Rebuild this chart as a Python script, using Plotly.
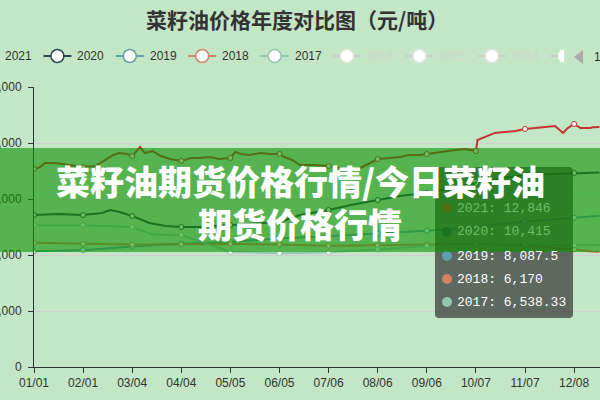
import plotly.graph_objects as go
import pandas as pd

# ---------------- data ----------------
dates = list(pd.date_range("2021-01-01", "2021-12-31").strftime("%m/%d"))
tick_labels = dates[::31]

years = ["2021", "2020", "2019", "2018", "2017"]
colors = ["#c23531", "#2f4554", "#61a0a8", "#d48265", "#91c7ae"]

legend_years = ["2021", "2020", "2019", "2018", "2017", "2016", "2015", "2014", "2013"]
legend_active = [True, True, True, True, True, False, False, False, False]

days_2021 = [0, 4, 7, 13, 18, 23, 31, 39, 45, 50, 54, 59, 62, 67, 70, 75, 80, 86, 93, 99, 105, 111, 117,
             124, 127, 131, 136, 143, 149, 155, 158, 163, 168, 177, 186, 193, 200, 206, 212, 217, 225, 231,
             237, 244, 248, 256, 266, 272, 279, 280, 285, 291, 297, 304, 310, 316, 323, 329, 334, 337, 341,
             345, 351, 353, 357]
vals_2021 = [10610, 10710, 10930, 10930, 10870, 10820, 10710, 10770, 11090, 11360, 11460, 11410, 11300,
             11790, 11460, 11570, 11300, 11140, 11040, 11200, 11200, 11250, 11140, 11200, 11520, 11410,
             11360, 11460, 11410, 11410, 11250, 11090, 10820, 10820, 10770, 10660, 10550, 10660, 10930,
             11140, 11200, 11250, 11360, 11360, 11410, 11520, 11620, 11680, 11570, 12160, 12320, 12540,
             12590, 12640, 12750, 12800, 12860, 12910, 12540, 12800, 13020, 12800, 12800, 12846, 12860]

days_2020 = [0, 15, 31, 43, 48, 54, 62, 73, 83, 93, 105, 124, 155, 168, 186, 200, 217, 231, 248, 263,
             279, 295, 310, 325, 341, 353, 357]
vals_2020 = [8143, 8196, 8143, 8250, 8411, 8304, 8089, 7714, 7554, 7500, 7500, 7607, 7770, 8143, 8410,
             8680, 8946, 9160, 9320, 9590, 9857, 10125, 10286, 10340, 10393, 10415, 10420]

days_2019 = [0, 31, 62, 93, 124, 155, 186, 217, 248, 279, 310, 341, 353, 357]
vals_2019 = [6200, 6260, 6450, 6600, 6700, 6900, 7000, 7150, 7300, 7500, 7800, 8000, 8087.5, 8100]

days_2018 = [0, 31, 62, 93, 124, 155, 186, 217, 248, 279, 310, 341, 353, 357]
vals_2018 = [6650, 6600, 6560, 6580, 6600, 6560, 6500, 6520, 6560, 6600, 6500, 6300, 6170, 6160]

days_2017 = [0, 31, 62, 75, 93, 124, 155, 186, 217, 248, 279, 310, 341, 353, 357]
vals_2017 = [7600, 7600, 7500, 7100, 7070, 6160, 6100, 6150, 6300, 6500, 6600, 6550, 6520, 6538.33, 6540]

series_days = [days_2021, days_2020, days_2019, days_2018, days_2017]
series_vals = [vals_2021, vals_2020, vals_2019, vals_2018, vals_2017]

y_ticks = [0, 3000, 6000, 9000, 12000, 15000]
hover_day = 353

title_text = "菜籽油价格年度对比图（元/吨）"
banner_line1 = "菜籽油期货价格行情/今日菜籽油"
banner_line2 = "期货价格行情"

# ---------------- geometry helpers (600x400 page) ----------------
W, H = 600, 400
L, R, T, B = 34, 0, 87, 33
PW, PH = W - L - R, H - T - B


def px(x):
    return (x - L) / PW


def py(y):
    return (H - B - y) / PH


def fmt(v):
    if float(v) == int(v):
        return f"{int(v):,}"
    return f"{v:,}"


def blend(rgb, over, a):
    return "rgb(%d,%d,%d)" % tuple(round(a * o + (1 - a) * c) for c, o in zip(rgb, over))


BG = "#c3e6c6"
BANNER_RGB = (12, 147, 0)
BANNER_A = 0.6

fig = go.Figure()

tick_set = set(range(0, 365, 31))
for yr, col, d, v in zip(years, colors, series_days, series_vals):
    fig.add_trace(go.Scatter(
        x=[dates[i] for i in d], y=v, mode="lines", name=yr,
        line=dict(color=col, width=2), hoverinfo="skip", showlegend=False))
    md = [i for i in d if i in tick_set]
    mv = [val for i, val in zip(d, v) if i in tick_set]
    fig.add_trace(go.Scatter(
        x=[dates[i] for i in md], y=mv, mode="markers",
        marker=dict(size=5, color="white", line=dict(color=col, width=1)),
        hoverinfo="skip", showlegend=False))

shapes = []
annotations = []

# ---------------- legend (scroll legend, clipped on both sides) ----------------
for i, (yr, act) in enumerate(zip(legend_years, legend_active)):
    cx = -15 + 72.4 * i
    cy = 56
    lc = colors[i] if act else "#cccccc"
    tc = "#333333" if act else "#cfd6cf"
    if i < 8:
        shapes.append(dict(type="line", xref="paper", yref="paper", x0=px(cx - 14), x1=px(cx + 14),
                           y0=py(cy), y1=py(cy), line=dict(color=lc, width=2)))
        shapes.append(dict(type="circle", xref="paper", yref="paper", x0=px(cx - 6.5), x1=px(cx + 6.5),
                           y0=py(cy - 6.5), y1=py(cy + 6.5), fillcolor="white",
                           line=dict(color=lc if act else "#e6e6e6", width=1.5)))
        annotations.append(dict(text=yr, xref="paper", yref="paper", x=px(cx + 18), y=py(cy),
                                xanchor="left", yanchor="middle", showarrow=False,
                                font=dict(family="Liberation Sans", size=12, color=tc)))
    else:
        r = 6.5
        shapes.append(dict(type="line", xref="paper", yref="paper", x0=px(cx - 14), x1=px(cx - 3),
                           y0=py(cy), y1=py(cy), line=dict(color=lc, width=2)))
        shapes.append(dict(type="path", xref="paper", yref="paper",
                           path=f"M {px(cx)} {py(cy - r)} L {px(cx - 3)} {py(cy - 6)} L {px(cx - 6)} {py(cy - 3)} "
                                f"L {px(cx - 6.5)} {py(cy)} L {px(cx - 6)} {py(cy + 3)} L {px(cx - 3)} {py(cy + 6)} "
                                f"L {px(cx)} {py(cy + r)} Z",
                           fillcolor="white", line=dict(width=0)))

# pager arrow and page number
shapes.append(dict(type="path", xref="paper", yref="paper",
                   path=f"M {px(574)} {py(57)} L {px(583)} {py(50)} L {px(583)} {py(64)} Z",
                   fillcolor="#aaaaaa", line=dict(width=0)))
annotations.append(dict(text="1/3", xref="paper", yref="paper", x=px(592), y=py(57), xanchor="left",
                        yanchor="middle", showarrow=False,
                        font=dict(family="Liberation Sans", size=12, color="#333333")))

# title
annotations.append(dict(text=title_text, xref="paper", yref="paper", x=px(297), y=py(19),
                        xanchor="center", yanchor="middle", showarrow=False,
                        font=dict(family="Noto Sans CJK SC", size=21, color="#333333", weight="bold")))

# ---------------- tooltip ----------------
tx0, tx1, ty0, ty1, rr = 435, 573, 167, 318, 4
tip_path = (f"M {px(tx0 + rr)} {py(ty0)} L {px(tx1 - rr)} {py(ty0)} Q {px(tx1)} {py(ty0)} {px(tx1)} {py(ty0 + rr)} "
            f"L {px(tx1)} {py(ty1 - rr)} Q {px(tx1)} {py(ty1)} {px(tx1 - rr)} {py(ty1)} "
            f"L {px(tx0 + rr)} {py(ty1)} Q {px(tx0)} {py(ty1)} {px(tx0)} {py(ty1 - rr)} "
            f"L {px(tx0)} {py(ty0 + rr)} Q {px(tx0)} {py(ty0)} {px(tx0 + rr)} {py(ty0)} Z")
shapes.append(dict(type="path", xref="paper", yref="paper", path=tip_path,
                   fillcolor="rgba(50,50,50,0.7)", line=dict(width=0), layer="above"))

banner_top, banner_bot = 148, 252
row_y = [208, 232, 256, 279, 302]
white_under = blend((255, 255, 255), BANNER_RGB, BANNER_A)
annotations.append(dict(text=dates[hover_day], xref="paper", yref="paper", x=px(446), y=py(185),
                        xanchor="left", yanchor="middle", showarrow=False,
                        font=dict(family="Liberation Mono", size=13, color=white_under)))
for yr, col, d, v, ry in zip(years, colors, series_days, series_vals, row_y):
    val = v[d.index(hover_day)]
    shapes.append(dict(type="circle", xref="paper", yref="paper", x0=px(442), x1=px(452),
                       y0=py(ry - 5), y1=py(ry + 5), fillcolor=col, line=dict(width=0), layer="above"))
    c = white_under if ry < banner_bot else "#ffffff"
    annotations.append(dict(text=f"{yr}: {fmt(val)}", xref="paper", yref="paper", x=px(455), y=py(ry),
                            xanchor="left", yanchor="middle", showarrow=False,
                            font=dict(family="Liberation Mono", size=13, color=c)))

# ---------------- banner overlay ----------------
shapes.append(dict(type="rect", xref="paper", yref="paper", x0=px(-2), x1=px(602),
                   y0=py(banner_bot), y1=py(banner_top),
                   fillcolor="rgba(%d,%d,%d,%s)" % (*BANNER_RGB, BANNER_A), line=dict(width=0), layer="above"))
annotations.append(dict(text=banner_line1, xref="paper", yref="paper", x=px(300), y=py(180),
                        xanchor="center", yanchor="middle", showarrow=False,
                        font=dict(family="Noto Sans CJK SC", size=34, color="white", weight=900)))
annotations.append(dict(text=banner_line2, xref="paper", yref="paper", x=px(300), y=py(223),
                        xanchor="center", yanchor="middle", showarrow=False,
                        font=dict(family="Noto Sans CJK SC", size=34, color="white", weight=900)))

fig.update_layout(
    width=W, height=H, margin=dict(l=L, r=R, t=T, b=B, autoexpand=False),
    paper_bgcolor=BG, plot_bgcolor=BG, showlegend=False,
    shapes=shapes, annotations=annotations,
    xaxis=dict(type="category", categoryorder="array", categoryarray=dates,
               range=[0, PW / (49.1 / 31)], tickmode="array", tickvals=tick_labels, ticktext=tick_labels,
               showgrid=False, showline=True, linecolor="#333333", linewidth=1,
               ticks="outside", ticklen=5, tickcolor="#333333", zeroline=False,
               tickfont=dict(family="Liberation Sans", size=12, color="#333333"), automargin=False),
    yaxis=dict(range=[0, 15000], tickmode="array", tickvals=y_ticks, ticktext=[fmt(v) for v in y_ticks],
               showgrid=True, gridcolor="#d2cfd2", gridwidth=1, showline=True, linecolor="#333333",
               linewidth=1, ticks="outside", ticklen=5, tickcolor="#333333", zeroline=False,
               ticklabelstandoff=4,
               tickfont=dict(family="Liberation Sans", size=12, color="#333333"), automargin=False),
)

fig.write_html("out.html", config={"displayModeBar": False},
               post_script="document.body.style.margin='0';document.body.style.overflow='hidden';")
